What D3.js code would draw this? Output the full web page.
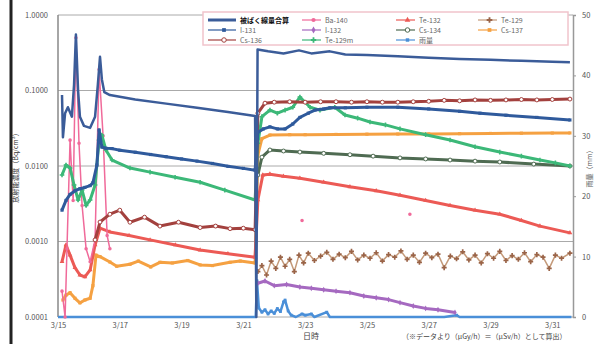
<!DOCTYPE html>
<html>
<head>
<meta charset="utf-8">
<script src="https://cdn.jsdelivr.net/npm/d3@7"></script>
<style>
  body { margin: 0; background: #fff; }
  text { font-family: "Noto Sans CJK JP", "Noto Sans", sans-serif; }
</style>
</head>
<body>
<div id="chart"></div>
<script>
// day numbers are days of March 2011 (fractional = time of day)
const xTickDays = [15, 17, 19, 21, 23, 25, 27, 29, 31];
const yTicks = [1, 0.1, 0.01, 0.001, 0.0001];
const rainTicks = [0, 10, 20, 30, 40, 50];

const totalDose = [[15.13,0.087],[15.16,0.024],[15.23,0.05],[15.32,0.06],[15.45,0.045],[15.52,0.12],[15.58,0.55],[15.65,0.1],[15.71,0.045],[15.84,0.034],[16.04,0.032],[16.2,0.045],[16.29,0.12],[16.36,0.28],[16.42,0.14],[16.5,0.095],[16.68,0.087],[17.5,0.076],[18.5,0.067],[19.5,0.059],[20.5,0.052],[21.38,0.046],[21.42,0.0001],[21.46,0.35],[21.8,0.33],[22.3,0.31],[22.8,0.34],[23.2,0.31],[23.8,0.33],[24.3,0.30],[25,0.295],[26,0.285],[27,0.272],[28,0.262],[29,0.255],[30,0.247],[31,0.24],[31.57,0.236]];

const i131 = [[15.13,0.0026],[15.26,0.0035],[15.39,0.0042],[15.55,0.0047],[15.71,0.005],[15.87,0.0052],[16.04,0.0055],[16.13,0.006],[16.26,0.0103],[16.33,0.03],[16.42,0.0178],[16.55,0.0172],[16.75,0.017],[17.0,0.0162],[17.5,0.0152],[18,0.0142],[18.5,0.0133],[19,0.0124],[19.5,0.0116],[20,0.0108],[20.5,0.0099],[21,0.0093],[21.38,0.0088],[21.47,0.028],[21.65,0.031],[21.86,0.033],[22.1,0.031],[22.35,0.031],[22.6,0.036],[22.83,0.044],[23.1,0.05],[23.32,0.055],[23.6,0.057],[23.8,0.059],[24.3,0.059],[25,0.06],[26,0.06],[27,0.057],[28,0.053],[28.66,0.05],[29.5,0.047],[30.5,0.044],[31.57,0.0407]];

const te129m = [[15.13,0.0076],[15.26,0.0103],[15.39,0.0094],[15.52,0.0056],[15.65,0.00355],[15.78,0.0048],[15.91,0.003],[16.04,0.00355],[16.2,0.0056],[16.33,0.022],[16.42,0.0257],[16.55,0.0163],[16.75,0.012],[17.33,0.0094],[17.98,0.0083],[18.79,0.0071],[19.6,0.0061],[20.4,0.0048],[21.38,0.00355],[21.47,0.02],[21.6,0.045],[21.86,0.055],[22.1,0.05],[22.35,0.055],[22.6,0.06],[22.83,0.082],[23.16,0.06],[23.48,0.055],[23.96,0.06],[24.29,0.0473],[24.7,0.043],[25.1,0.0383],[25.6,0.035],[26.07,0.031],[26.9,0.026],[27.69,0.0221],[28.5,0.018],[29.3,0.0153],[30.0,0.0135],[30.6,0.012],[31.1,0.011],[31.57,0.01]];

const cs134 = [[21.47,0.0076],[21.6,0.0131],[21.86,0.0163],[22.3,0.0158],[22.83,0.0153],[23.6,0.0147],[24.45,0.0141],[25.2,0.0135],[26.07,0.0128],[26.9,0.0124],[27.69,0.012],[28.5,0.0116],[29.3,0.0113],[30.4,0.0106],[31.57,0.01]];

const cs136 = [[16.2,0.00105],[16.36,0.00181],[16.68,0.0023],[17.0,0.0026],[17.33,0.0018],[17.8,0.0021],[18.3,0.0016],[18.9,0.0018],[19.6,0.00153],[20.1,0.0016],[20.57,0.00148],[21.0,0.0015],[21.38,0.00143],[21.47,0.05],[21.7,0.068],[22,0.07],[22.5,0.071],[23,0.07],[23.5,0.071],[24,0.071],[24.5,0.07],[25,0.071],[25.5,0.07],[26,0.07],[26.5,0.071],[27,0.072],[27.5,0.074],[28,0.073],[28.5,0.075],[29,0.074],[29.5,0.075],[30,0.076],[30.5,0.075],[31,0.076],[31.57,0.077]];

const cs137 = [[15.16,0.000168],[15.26,0.000195],[15.39,0.00021],[15.55,0.000177],[15.71,0.000154],[15.87,0.000168],[16.04,0.000177],[16.13,0.00026],[16.23,0.00066],[16.36,0.00063],[16.68,0.000535],[16.9,0.00047],[17.33,0.0005],[17.6,0.00055],[18.0,0.00046],[18.3,0.00053],[18.7,0.00052],[19.2,0.00056],[19.6,0.00049],[20.0,0.00048],[20.57,0.00053],[20.9,0.00055],[21.38,0.00052],[21.47,0.014],[21.6,0.023],[21.86,0.0257],[22.5,0.026],[23,0.026],[24,0.0262],[25,0.0264],[26,0.0265],[27,0.0266],[28,0.0268],[29,0.027],[30,0.0272],[31,0.0273],[31.57,0.0274]];

const te132 = [[15.13,0.00054],[15.26,0.0009],[15.39,0.00066],[15.55,0.00045],[15.71,0.00036],[15.87,0.00034],[16.04,0.00042],[16.2,0.0009],[16.36,0.0015],[16.68,0.00134],[17.3,0.0012],[17.98,0.00105],[18.8,0.0009],[19.6,0.00077],[20.5,0.00069],[21.38,0.00062],[21.47,0.00355],[21.63,0.0076],[21.86,0.0078],[22.3,0.0073],[22.83,0.0069],[23.6,0.0061],[24.45,0.0053],[25.3,0.0047],[26.07,0.0041],[26.9,0.0035],[27.69,0.003],[28.5,0.0026],[29.3,0.0023],[30.0,0.0019],[30.6,0.0016],[31.57,0.0013]];

const ba140 = [[15.13,0.00022],[15.23,0.0001],[15.29,0.0008],[15.39,0.022],[15.49,0.0035],[15.58,0.5],[15.68,0.02],[15.78,0.003],[15.91,0.0008],[16.04,0.00054],[16.2,0.00105],[16.33,0.19],[16.46,0.025],[16.59,0.0012],[16.68,0.0008],[16.7,null],[22.9,0.0019],[23.0,null],[26.39,0.0023]];

const te129 = [[21.47,0.0004],[21.6,0.00048],[21.75,0.00036],[21.9,0.00055],[22.05,0.00044],[22.2,0.00062],[22.35,0.00047],[22.5,0.00058],[22.65,0.0004],[22.8,0.00066],[22.95,0.00052],[23.1,0.0007],[23.3,0.00056],[23.5,0.00064],[23.7,0.00072],[23.9,0.00058],[24.1,0.00068],[24.3,0.00061],[24.5,0.00074],[24.7,0.00057],[24.9,0.00066],[25.1,0.0006],[25.3,0.00071],[25.5,0.00055],[25.7,0.00067],[25.9,0.00062],[26.1,0.00075],[26.3,0.00058],[26.5,0.00066],[26.7,0.00053],[26.9,0.0007],[27.1,0.00061],[27.3,0.00068],[27.5,0.00045],[27.7,0.00064],[27.9,0.00059],[28.1,0.00073],[28.3,0.00057],[28.5,0.00066],[28.7,0.00052],[28.9,0.00069],[29.1,0.0006],[29.3,0.00074],[29.5,0.00056],[29.7,0.00065],[29.9,0.00058],[30.1,0.00071],[30.3,0.00054],[30.5,0.00067],[30.7,0.00062],[30.9,0.00044],[31.1,0.00066],[31.3,0.0006],[31.57,0.0007]];

const i132 = [[21.47,0.00028],[21.7,0.0003],[22.0,0.00026],[22.4,0.00027],[22.83,0.00025],[23.2,0.00024],[23.6,0.00023],[24.0,0.00022],[24.45,0.00021],[24.9,0.00019],[25.3,0.00018],[25.7,0.00017],[26.07,0.000155],[26.5,0.00014],[26.9,0.00013],[27.3,0.000125],[27.85,0.000115]];

const rain = [[15.0,0],[16.0,0],[17.0,0],[18.0,0],[19.0,0],[20.0,0],[21.0,0],[21.4,0],[21.44,6],[21.5,1.5],[21.6,0.8],[21.7,1.2],[21.8,0.5],[21.9,1.0],[22.0,0.6],[22.1,1.4],[22.2,0.9],[22.3,2.5],[22.35,2.8],[22.45,1.0],[22.55,0.3],[22.7,0],[22.9,0.5],[23.0,0.3],[23.2,0.5],[23.3,0],[23.7,0.8],[23.8,0],[24.5,0],[25.5,0],[26.5,0],[27.5,0],[27.9,0.3],[28.0,0],[29.0,0],[30.0,0],[31.0,0],[31.62,0]];

const seriesNames = ['被ばく線量合算','I-131','Cs-136','Ba-140','I-132','Te-129m','Te-132','Cs-134','雨量','Te-129','Cs-137'];

const W = 597, H = 344;
const svg = d3.select('#chart').append('svg').attr('width', W).attr('height', H);

const toDate = d => new Date(2011, 2, 0, 0, Math.round(d * 1440));

const x = d3.scaleTime().domain([toDate(15), toDate(31.67)]).range([58, 573]);
const y = d3.scaleLog().domain([0.0001, 1]).range([317, 15]);
const y2 = d3.scaleLinear().domain([0, 50]).range([317, 15]);

// scan border on the left
svg.append('line').attr('x1', 11).attr('x2', 11).attr('y1', 0).attr('y2', H)
  .style('stroke', '#222').style('stroke-width', 3);

// grid + frame
svg.append('g').selectAll('line').data(yTicks).join('line')
  .attr('x1', 58).attr('x2', 573).attr('y1', d => y(d)).attr('y2', d => y(d))
  .style('stroke', '#aaa').style('stroke-width', 1);
svg.append('line').attr('x1', 58).attr('x2', 58).attr('y1', 15).attr('y2', 317)
  .style('stroke', '#888').style('stroke-width', 1.5);

// axes
const gX = svg.append('g').attr('transform', 'translate(0,317)')
  .call(d3.axisBottom(x).tickValues(xTickDays.map(toDate))
    .tickFormat(d3.timeFormat('%-m/%-d')).tickSize(0).tickPadding(6));
const gY = svg.append('g').attr('transform', 'translate(58,0)')
  .call(d3.axisLeft(y).tickValues(yTicks).tickFormat(d3.format('.4f')).tickSize(0).tickPadding(10));
const gY2 = svg.append('g').attr('transform', 'translate(573,0)')
  .call(d3.axisRight(y2).tickValues(rainTicks).tickSize(3).tickPadding(6));

[gX, gY, gY2].forEach(g => {
  g.selectAll('text').style('fill', '#555').style('font-size', '7.5px');
  g.selectAll('.tick line').style('stroke', '#999');
});
gX.select('.domain').remove();
gY.select('.domain').remove();
gY2.select('.domain').style('stroke', '#999').style('stroke-width', 1.5);

// clipping area
svg.append('clipPath').attr('id', 'plotclip')
  .append('rect').attr('x', 58).attr('y', 13).attr('width', 516).attr('height', 307);
const clipping = svg.append('g').attr('clip-path', 'url(#plotclip)');

const styles = {
  '被ばく線量合算': { data: totalDose, color: '#3b5c99', width: 2.5 },
  'I-131': { data: i131, color: '#2f5a9c', width: 3, symbol: d3.symbolSquare, size: 10, fill: '#2f5a9c' },
  'Cs-136': { data: cs136, color: '#a3413e', width: 3, symbol: d3.symbolCircle, size: 12, fill: 'none' },
  'Ba-140': { data: ba140, color: '#f06a9a', width: 1.5, symbol: d3.symbolCircle, size: 10, fill: '#f06a9a' },
  'I-132': { data: i132, color: '#a569c0', width: 3, symbol: d3.symbolDiamond, size: 10, fill: '#a569c0' },
  'Te-129m': { data: te129m, color: '#3cb878', width: 3, symbol: d3.symbolCross, size: 12, fill: '#3cb878' },
  'Te-132': { data: te132, color: '#ec5a55', width: 3, symbol: d3.symbolTriangle, size: 10, fill: '#ec5a55' },
  'Cs-134': { data: cs134, color: '#4f6b52', width: 3, symbol: d3.symbolCircle, size: 12, fill: 'none' },
  '雨量': { data: rain, color: '#4a8fd8', width: 2.5, symbol: d3.symbolSquare, size: 8, fill: '#4a8fd8', right: true },
  'Te-129': { data: te129, color: '#c49a7a', width: 1.5, symbol: d3.symbolCross, size: 14, fill: '#9a6448' },
  'Cs-137': { data: cs137, color: '#f5a142', width: 3, symbol: d3.symbolSquare, size: 10, fill: '#f5a142' }
};

const drawOrder = ['雨量','I-132','Te-129','Cs-137','Te-132','Ba-140','Cs-134','Te-129m','Cs-136','I-131','被ばく線量合算'];

drawOrder.forEach(name => {
  const s = styles[name];
  const ys = s.right ? y2 : y;
  const line = d3.line().defined(d => d[1] != null)
    .x(d => x(toDate(d[0]))).y(d => ys(d[1]));
  clipping.append('path').datum(s.data).attr('d', line)
    .style('fill', 'none').style('stroke', s.color).style('stroke-width', s.width)
    .style('stroke-linejoin', 'round');
  if (s.symbol) {
    clipping.append('g').selectAll('path')
      .data(s.data.filter(d => d[1] != null && (!s.right || d[1] > 0)))
      .enter().append('path')
      .attr('transform', d => `translate(${x(toDate(d[0]))},${ys(d[1])})`)
      .attr('d', d3.symbol(s.symbol, s.size))
      .style('fill', s.fill === 'none' ? '#fff' : s.fill)
      .style('stroke', s.fill === 'none' ? s.color : 'none')
      .style('stroke-width', 1);
  }
});

// legend
const legendRows = [
  ['被ばく線量合算', 'Ba-140', 'Te-132', 'Te-129'],
  ['I-131', 'I-132', 'Cs-134', 'Cs-137'],
  ['Cs-136', 'Te-129m', '雨量']
];
const colX = [208, 302, 396, 478];
const rowY = [20, 30, 40];
const legend = svg.append('g');
legend.append('rect').attr('x', 203).attr('y', 12).attr('width', 365).attr('height', 33)
  .style('fill', '#fff').style('stroke', '#f1c4cc').style('stroke-width', 1.5);
legendRows.forEach((row, ri) => {
  row.forEach((name, ci) => {
    const s = styles[name];
    const lx = colX[ci], ly = rowY[ri];
    const len = ci === 0 ? 28 : 19;
    legend.append('line').attr('x1', lx).attr('x2', lx + len).attr('y1', ly).attr('y2', ly)
      .style('stroke', s.color).style('stroke-width', ri === 0 && ci === 0 ? 3 : 1.2);
    if (s.symbol) {
      legend.append('path').attr('transform', `translate(${lx + len / 2 + 2},${ly})`)
        .attr('d', d3.symbol(s.symbol, s.size + 4))
        .style('fill', s.fill === 'none' ? '#fff' : s.fill)
        .style('stroke', s.fill === 'none' ? s.color : 'none');
    }
    legend.append('text').attr('x', lx + len + 4).attr('y', ly + 2.5).text(name)
      .style('font-size', '7px')
      .style('font-weight', ri === 0 && ci === 0 ? 'bold' : 'normal')
      .style('fill', ri === 0 && ci === 0 ? '#111' : '#666');
  });
});

// titles
svg.append('text').attr('transform', 'translate(18,166) rotate(-90)')
  .attr('text-anchor', 'middle').style('font-size', '7px').style('fill', '#333')
  .text('放射能濃度（Bq/cm³）');
svg.append('text').attr('transform', 'translate(592,167) rotate(-90)')
  .attr('text-anchor', 'middle').style('font-size', '7px').style('fill', '#555')
  .text('雨量（mm）');
svg.append('text').attr('x', 311).attr('y', 339).attr('text-anchor', 'middle')
  .style('font-size', '8px').style('fill', '#444').text('日時');
svg.append('text').attr('x', 402).attr('y', 339)
  .style('font-size', '7px').style('fill', '#444')
  .text('（※データより（μGy/h）＝（μSv/h）として算出）');
</script>
</body>
</html>
